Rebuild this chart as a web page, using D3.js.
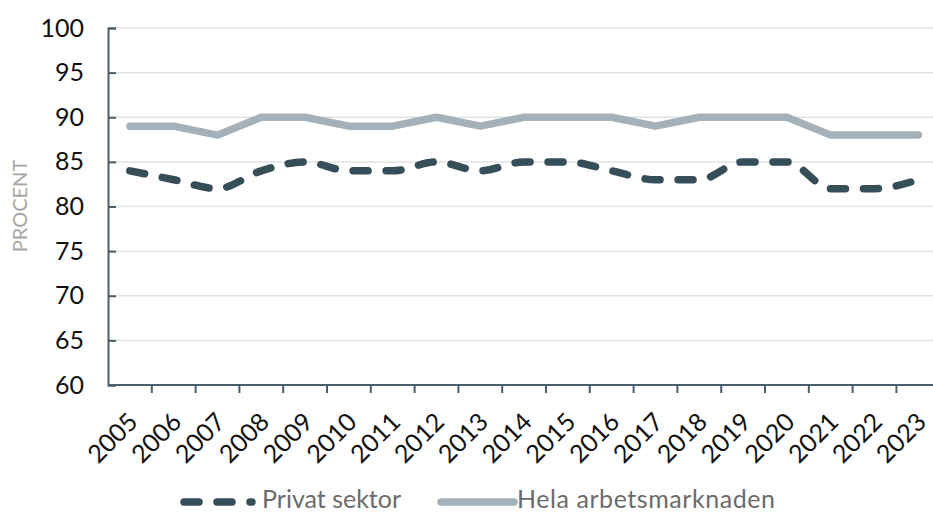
<!DOCTYPE html>
<html>
<head>
<meta charset="utf-8">
<script src="https://cdn.jsdelivr.net/npm/d3@7"></script>
<style>
  body { margin: 0; background: #fff; }
  text { font-family: Lato, "Open Sans", sans-serif; }
</style>
</head>
<body>
<svg id="chart" width="933" height="513"></svg>
<script>
// data
const years = ["2005","2006","2007","2008","2009","2010","2011","2012","2013","2014",
               "2015","2016","2017","2018","2019","2020","2021","2022","2023"];
const privat = [84, 83, 82, 84, 85, 84, 84, 85, 84, 85, 85, 84, 83, 83, 85, 85, 82, 82, 83];
const hela   = [89, 89, 88, 90, 90, 89, 89, 90, 89, 90, 90, 90, 89, 90, 90, 90, 88, 88, 88];
const yTicks = [60, 65, 70, 75, 80, 85, 90, 95, 100];

const svg = d3.select("#chart");
const mLeft = 108, mTop = 28, mBottom = 385;
const bandW = 43.8;

const x = d3.scaleBand()
    .domain(years)
    .range([mLeft, mLeft + bandW * years.length]);

const y = d3.scaleLinear()
    .domain([60, 100])
    .range([mBottom, mTop]);

const axisCol = "#4a5f6b";
const darkCol = "#364d5a", lightCol = "#a5b1b9";

// gridlines
svg.append("g")
    .selectAll("line")
    .data(yTicks.slice(1))
    .enter()
    .append("line")
    .attr("x1", mLeft)
    .attr("x2", 933)
    .attr("y1", d => y(d))
    .attr("y2", d => y(d))
    .attr("stroke", "#e3e3e3")
    .attr("stroke-width", 1.5);

// y axis
const yAxis = svg.append("g")
    .attr("transform", `translate(${mLeft},0)`)
    .call(d3.axisLeft(y).tickValues(yTicks).tickSize(-8).tickPadding(24));
yAxis.select(".domain").attr("stroke", axisCol).attr("stroke-width", 2);
yAxis.selectAll(".tick line").attr("stroke", axisCol).attr("stroke-width", 2);
yAxis.selectAll("text")
    .attr("font-size", 25)
    .attr("fill", "#111")
    .style("font-family", "Lato");

// x axis, ticks on band edges
svg.append("line")
    .attr("x1", mLeft).attr("x2", 933)
    .attr("y1", mBottom).attr("y2", mBottom)
    .attr("stroke", axisCol).attr("stroke-width", 2);

svg.append("g")
    .selectAll("line")
    .data(years.slice(1))
    .enter()
    .append("line")
    .attr("x1", d => x(d)).attr("x2", d => x(d))
    .attr("y1", mBottom).attr("y2", mBottom + 8)
    .attr("stroke", axisCol).attr("stroke-width", 2);

svg.append("g")
    .selectAll("text")
    .data(years)
    .enter()
    .append("text")
    .attr("transform", d => `translate(${x(d) + x.bandwidth() / 2 - 3},${mBottom + 26}) rotate(-45)`)
    .attr("text-anchor", "end")
    .attr("dy", "0.7em")
    .attr("font-size", 25)
    .attr("fill", "#111")
    .text(d => d);

// y title
svg.append("text")
    .attr("transform", "translate(27,206) rotate(-90)")
    .attr("text-anchor", "middle")
    .attr("font-size", 20)
    .attr("fill", "#a6a6a6")
    .text("PROCENT");

const cx = d => x(d) + x.bandwidth() / 2;

// Hela arbetsmarknaden
const lineHela = d3.line()
    .x((d, i) => cx(years[i]))
    .y(d => y(d));

svg.append("path")
    .datum(hela)
    .attr("d", lineHela)
    .attr("fill", "none")
    .attr("stroke", lightCol)
    .attr("stroke-width", 7.5)
    .attr("stroke-linecap", "round")
    .attr("stroke-linejoin", "round");

// Privat sektor, smoothed dashed
const linePriv = d3.line()
    .x((d, i) => cx(years[i]))
    .y(d => y(d))
    .curve(d3.curveMonotoneX);

svg.append("path")
    .datum(privat)
    .attr("d", linePriv)
    .attr("fill", "none")
    .attr("stroke", darkCol)
    .attr("stroke-width", 7.5)
    .attr("stroke-linecap", "round")
    .attr("stroke-dasharray", "15 18");

// legend
const leg = svg.append("g").attr("transform", "translate(0,502)");
leg.append("line")
    .attr("x1", 184).attr("x2", 252)
    .attr("stroke", darkCol)
    .attr("stroke-width", 7.5)
    .attr("stroke-linecap", "round")
    .attr("stroke-dasharray", "15 18");
leg.append("text")
    .attr("x", 262).attr("y", 6)
    .attr("font-size", 25)
    .attr("fill", "#6b6b6b")
    .text("Privat sektor");
leg.append("line")
    .attr("x1", 441).attr("x2", 514)
    .attr("stroke", lightCol)
    .attr("stroke-width", 7.5)
    .attr("stroke-linecap", "round");
leg.append("text")
    .attr("x", 517).attr("y", 6)
    .attr("font-size", 25)
    .attr("textLength", 258)
    .attr("fill", "#6b6b6b")
    .text("Hela arbetsmarknaden");
</script>
</body>
</html>
